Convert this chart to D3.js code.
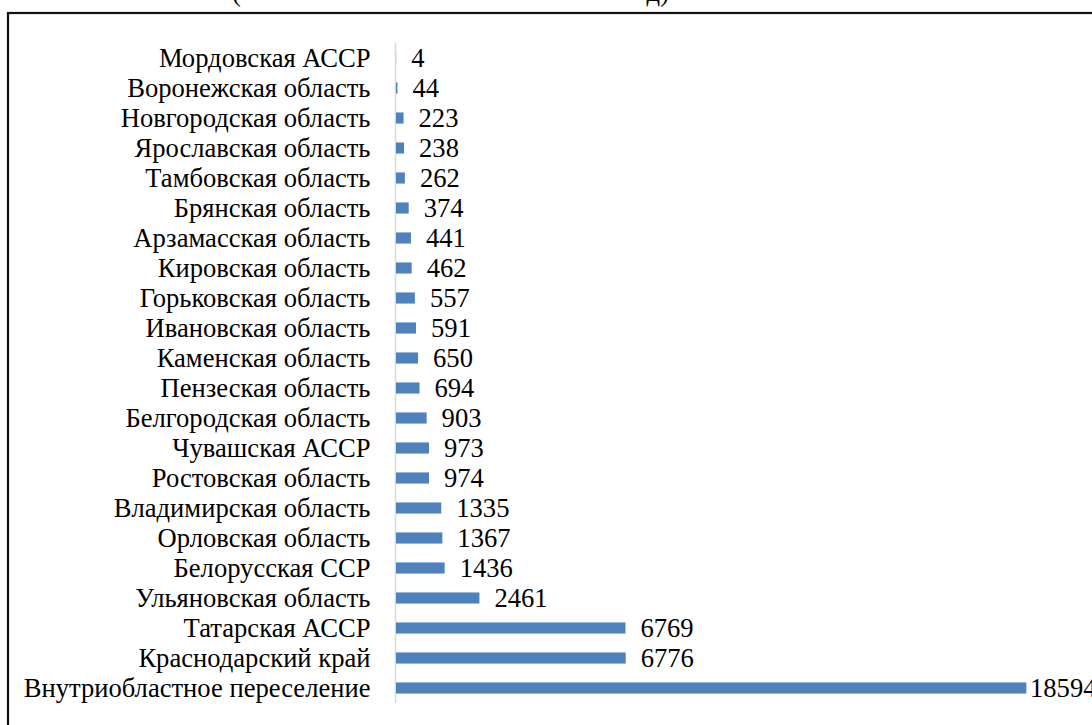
<!DOCTYPE html>
<html>
<head>
<meta charset="utf-8">
<script src="https://cdn.jsdelivr.net/npm/d3@7"></script>
</head>
<body style="margin:0">
<script>
var categories = [
  'Мордовская АССР',
  'Воронежская область',
  'Новгородская область',
  'Ярославская область',
  'Тамбовская область',
  'Брянская область',
  'Арзамасская область',
  'Кировская область',
  'Горьковская область',
  'Ивановская область',
  'Каменская область',
  'Пензеская область',
  'Белгородская область',
  'Чувашская АССР',
  'Ростовская область',
  'Владимирская область',
  'Орловская область',
  'Белорусская ССР',
  'Ульяновская область',
  'Татарская АССР',
  'Краснодарский край',
  'Внутриобластное переселение'
];
var values = [4, 44, 223, 238, 262, 374, 441, 462, 557, 591, 650, 694, 903, 973, 974, 1335, 1367, 1436, 2461, 6769, 6776, 18594];
var xDomain = [0, 20000];

(function () {
  var width = 1092;
  var height = 725;
  var margin = { top: 43, right: 18, bottom: 22, left: 396 };
  var textStyle = 'font-family: "Liberation Serif"; font-size: 26.6px';
  var labelGap = 15;
  var labelLimit = 1030;

  var rows = categories.map(function (c, i) { return { name: c, value: values[i] }; });

  var svg = d3.select('body').append('svg')
      .attr('width', width)
      .attr('height', height)
      .attr('style', 'display: block; ' + textStyle);

  // outer frame (only top and left edges fall inside the picture)
  svg.append('rect')
      .attr('x', 8)
      .attr('y', 13)
      .attr('width', 1200)
      .attr('height', 800)
      .attr('fill', 'none')
      .attr('stroke', '#111')
      .attr('stroke-width', 2.2);

  // bottom of the cut-off title line
  svg.append('text')
      .attr('x', 232)
      .attr('y', 1)
      .attr('style', textStyle)
      .text('(');
  svg.append('text')
      .attr('x', 669)
      .attr('y', 1)
      .attr('text-anchor', 'end')
      .attr('style', textStyle)
      .text('д)');

  var yScale = d3.scaleBand()
      .domain(categories)
      .range([margin.top, height - margin.bottom])
      .paddingInner(0.63)
      .paddingOuter(0.315);

  var xScale = d3.scaleLinear()
      .domain(xDomain)
      .range([margin.left, 1074]);

  var yAxis = d3.axisLeft(yScale).tickSize(0).tickPadding(25);

  var axisG = svg.append('g')
      .attr('transform', 'translate(' + (margin.left - 0.5) + ',0)')
      .call(yAxis)
      .attr('font-family', null)
      .attr('font-size', null);

  axisG.select('.domain')
      .attr('d', 'M0,' + margin.top + 'V' + (height - margin.bottom))
      .attr('stroke', '#d9d9d9')
      .attr('stroke-width', 1.5);

  axisG.selectAll('text')
      .attr('style', textStyle)
      .attr('fill', '#000');

  svg.selectAll('rect.bar')
      .data(rows)
      .enter().append('rect')
      .attr('class', 'bar')
      .attr('x', xScale(0))
      .attr('y', function (d) { return yScale(d.name); })
      .attr('width', function (d) { return xScale(d.value) - xScale(0); })
      .attr('height', yScale.bandwidth())
      .attr('fill', '#4f81bd');

  svg.selectAll('text.value')
      .data(rows)
      .enter().append('text')
      .attr('class', 'value')
      .attr('x', function (d) { return Math.min(xScale(d.value) + labelGap, labelLimit); })
      .attr('y', function (d) { return yScale(d.name) + yScale.bandwidth() / 2; })
      .attr('dy', '0.35em')
      .attr('style', textStyle)
      .attr('fill', '#000')
      .text(function (d) { return d.value; });
})();
</script>
</body>
</html>
